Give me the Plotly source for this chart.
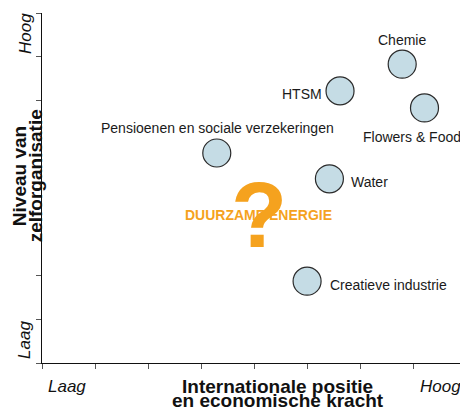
import plotly.graph_objects as go

sectors = ["Chemie", "HTSM", "Flowers & Food", "Pensioenen en sociale verzekeringen", "Water", "Creatieve industrie"]
positie = [6.78, 5.61, 7.2, 3.29, 5.41, 4.99]
zelforganisatie = [6.83, 6.22, 5.83, 4.8, 4.21, 1.87]

energie_label = "DUURZAME ENERGIE"
energie_x = 4.07
energie_y = 3.38

# label placement (style): anchor, x offset, y offset in px
label_style = [
    ("center", 0, 24),
    ("right", -16, -3),
    ("center", -13, -29),
    ("center", 1, 25),
    ("left", 20, -3),
    ("left", 21, -4),
]

ORANGE = "#F5A21E"
FONT = "Liberation Sans, Arial, sans-serif"

# The page body has an 8px margin: figure is drawn from (8, 8)
W, H = 460, 402
ML, MT, MR, MB = 34, 5, 1, 47

fig = go.Figure()
fig.add_trace(go.Scatter(
    x=positie, y=zelforganisatie, mode="markers",
    marker=dict(size=28, color="#C5DCE5", line=dict(color="#2a2a2a", width=1.2)),
    hoverinfo="skip", cliponaxis=False,
))

for name, xv, yv, (anc, dx, dy) in zip(sectors, positie, zelforganisatie, label_style):
    fig.add_annotation(x=xv, y=yv, text=name, showarrow=False, xanchor=anc, yanchor="middle",
                       xshift=dx, yshift=dy, font=dict(family=FONT, size=14, color="#1a1a1a"))

fig.add_annotation(x=energie_x, y=energie_y, text="<b>" + energie_label + "</b>", showarrow=False,
                   font=dict(family=FONT, size=14, color=ORANGE), xanchor="center", yanchor="middle")
fig.add_annotation(x=energie_x, y=energie_y, text="<b>?</b>", showarrow=False, yshift=0, xshift=1,
                   font=dict(family=FONT, size=92, color=ORANGE), xanchor="center", yanchor="middle")

end_font = dict(family=FONT, size=17, color="#111")
# axis end labels
fig.add_annotation(xref="paper", yref="paper", x=-0.04, y=0.94, text="<i>Hoog</i>", textangle=-90,
                   showarrow=False, font=end_font, xanchor="center", yanchor="middle")
fig.add_annotation(xref="paper", yref="paper", x=-0.04, y=0.066, text="<i>Laag</i>", textangle=-90,
                   showarrow=False, font=end_font, xanchor="center", yanchor="middle")
fig.add_annotation(xref="paper", yref="paper", x=0.059, y=-0.066, text="<i>Laag</i>",
                   showarrow=False, font=end_font, xanchor="center", yanchor="middle")
fig.add_annotation(xref="paper", yref="paper", x=0.938, y=-0.066, text="<i>Hoog</i>",
                   showarrow=False, font=end_font, xanchor="center", yanchor="middle")

title_font = dict(family=FONT, size=19, color="#111")
# x title (two lines)
fig.add_annotation(xref="paper", yref="paper", x=0.555, y=-0.068, text="<b>Internationale positie</b>",
                   showarrow=False, font=title_font, xanchor="center", yanchor="middle")
fig.add_annotation(xref="paper", yref="paper", x=0.555, y=-0.108, text="<b>en economische kracht</b>",
                   showarrow=False, font=title_font, xanchor="center", yanchor="middle")
# y title (two lines)
fig.add_annotation(xref="paper", yref="paper", x=-0.054, y=0.534, text="<b>Niveau van</b>",
                   textangle=-90, showarrow=False, font=title_font, xanchor="center", yanchor="middle")
fig.add_annotation(xref="paper", yref="paper", x=-0.016, y=0.534, text="<b>zelforganisatie</b>",
                   textangle=-90, showarrow=False, font=title_font, xanchor="center", yanchor="middle")

axis_common = dict(range=[0, 8], dtick=1, tick0=0, showgrid=False, zeroline=False, showticklabels=False,
                   showline=True, linecolor="#111", linewidth=1.3, ticks="outside", ticklen=5,
                   tickcolor="#555", tickwidth=1, fixedrange=True)
fig.update_xaxes(**axis_common)
fig.update_yaxes(**axis_common)

fig.update_layout(
    width=W, height=H, margin=dict(l=ML, r=MR, t=MT, b=MB),
    paper_bgcolor="white", plot_bgcolor="white", showlegend=False,
    font=dict(family=FONT),
)

fig.write_html("out.html")
